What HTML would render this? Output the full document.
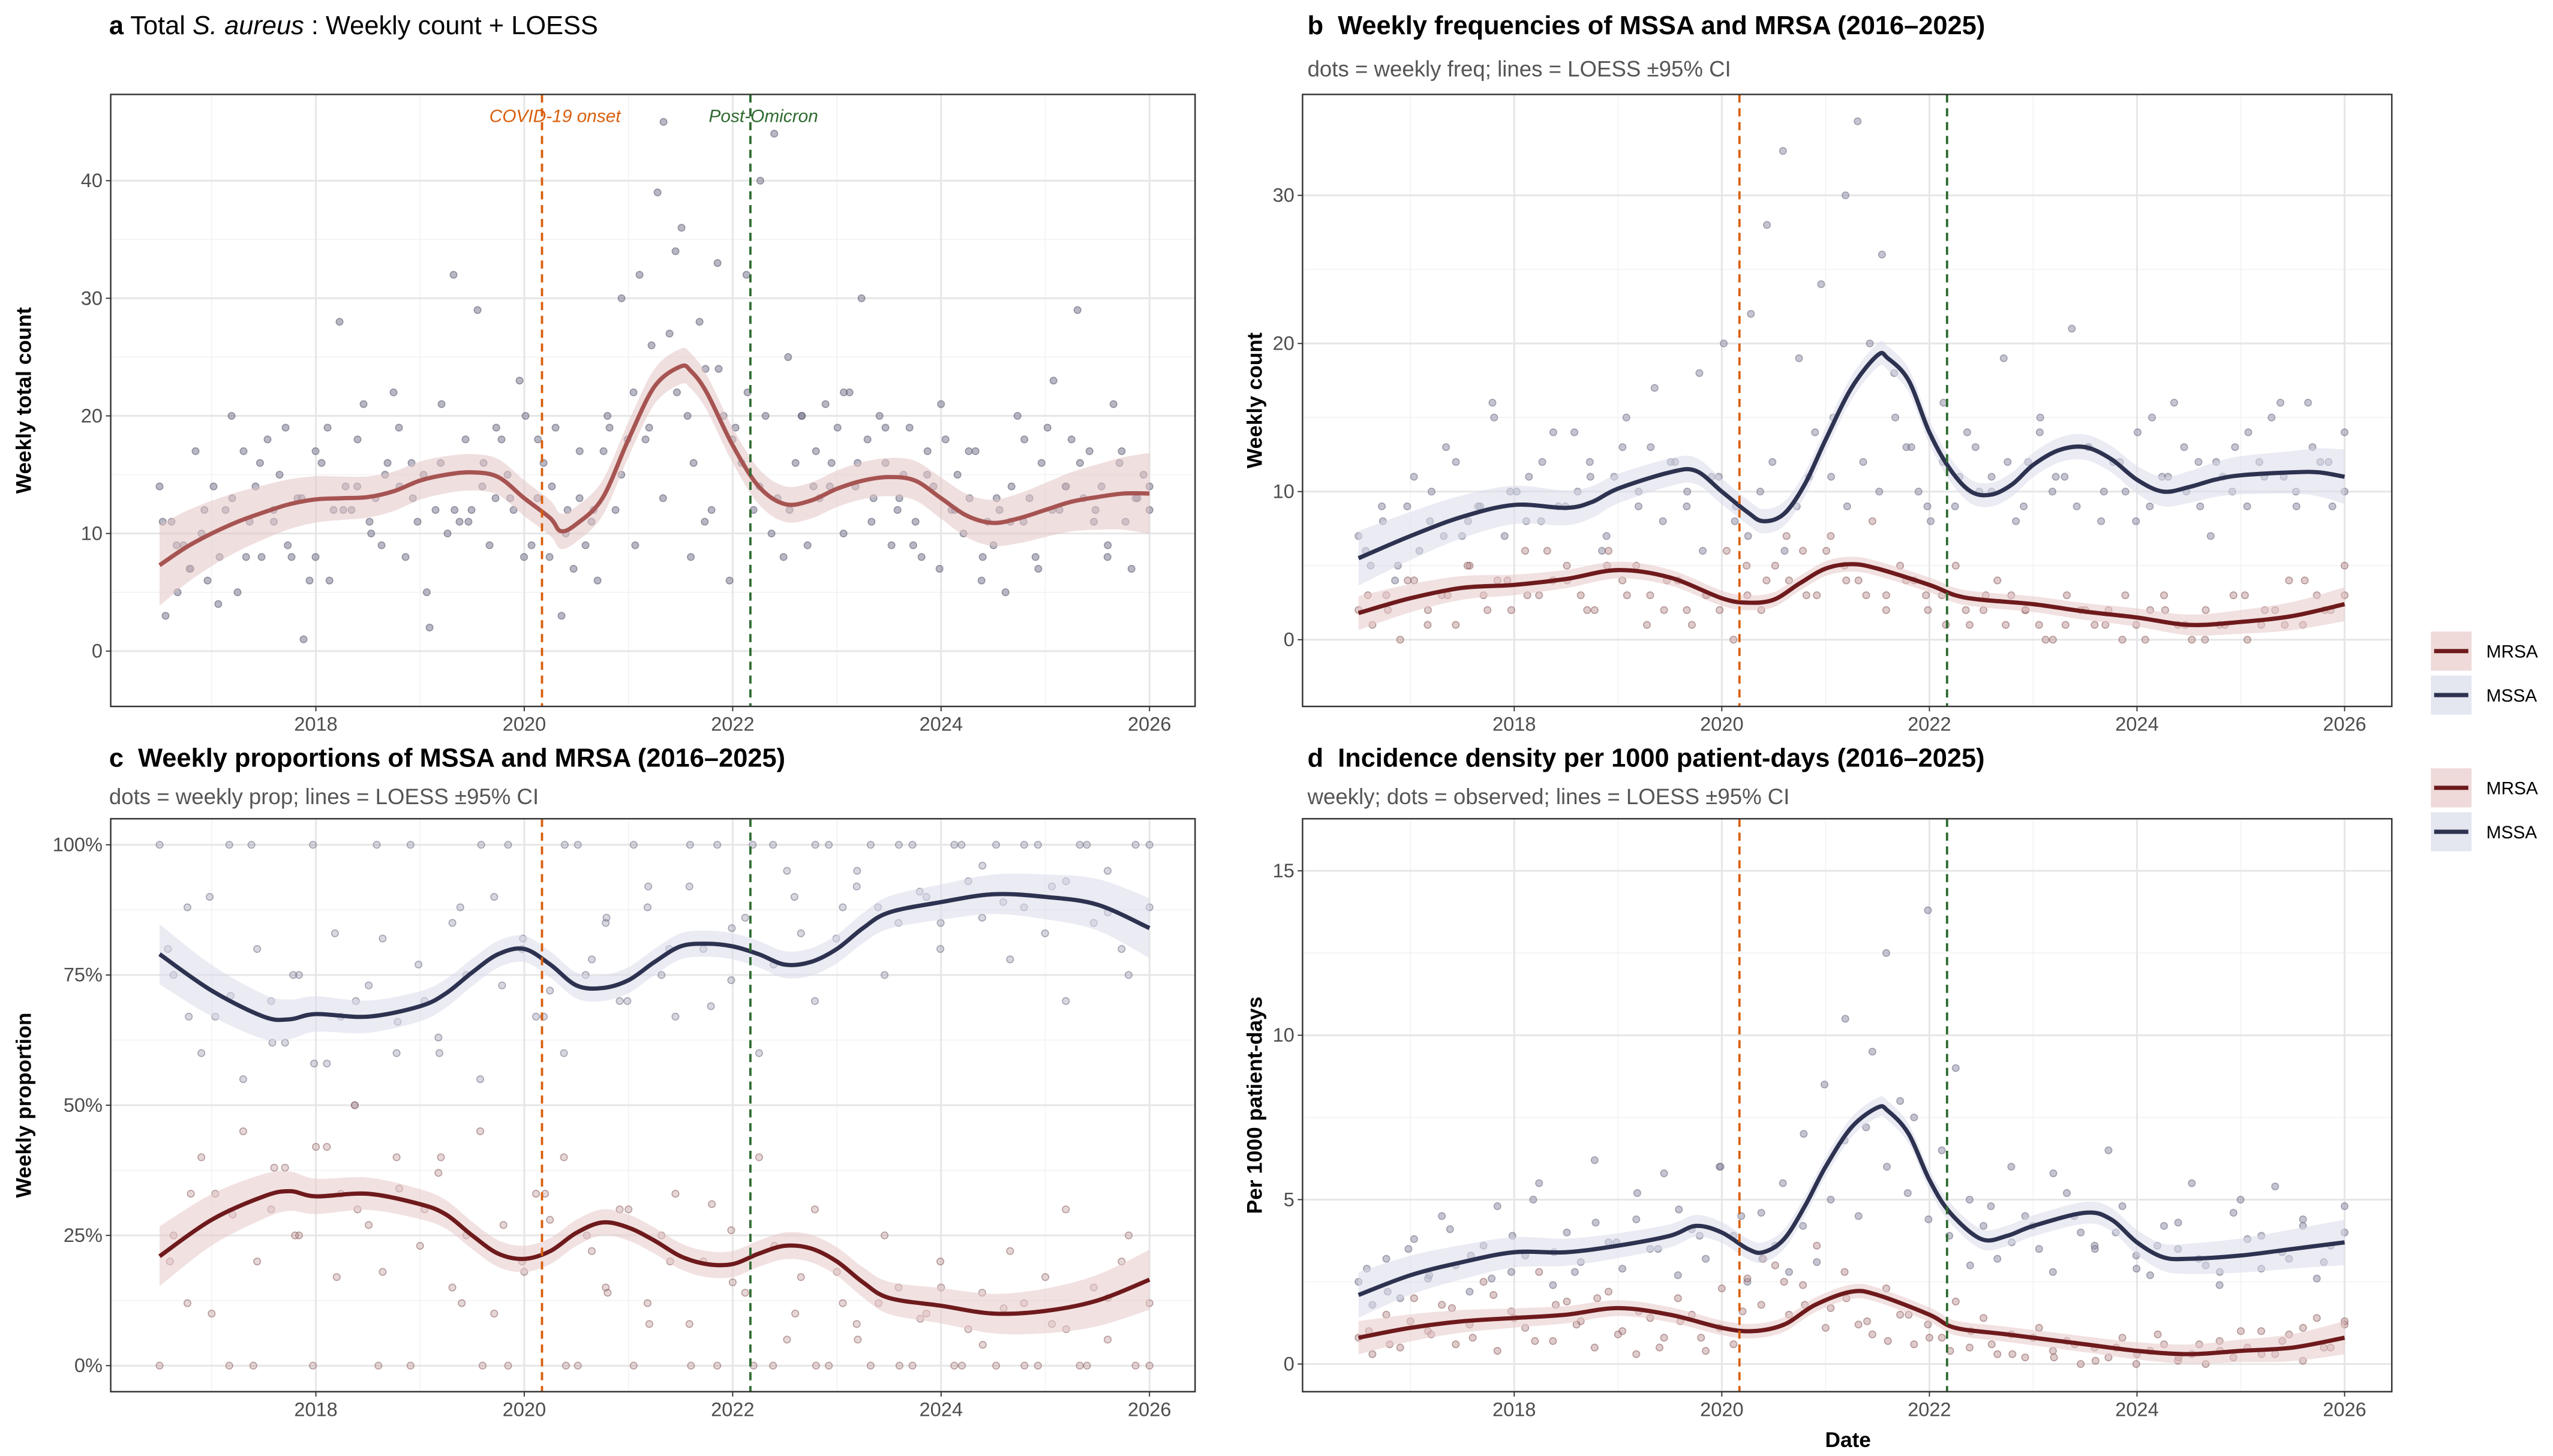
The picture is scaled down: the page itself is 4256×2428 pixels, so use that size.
<!DOCTYPE html>
<html><head><meta charset="utf-8"><style>
html,body{margin:0;padding:0;background:#fff;}
svg{display:block;font-family:"Liberation Sans",sans-serif;}
</style></head><body>
<svg id="fig" xmlns="http://www.w3.org/2000/svg" width="4256" height="2428" viewBox="0 0 1568 894.5">
<rect x="0" y="0" width="1568" height="894.5" fill="#fff"/>
<text x="67" y="21" font-size="16" fill="#000"><tspan font-weight="bold">a</tspan> Total <tspan font-style="italic">S. aureus</tspan> : Weekly count + LOESS</text>
<text x="803" y="21" font-size="16" font-weight="bold" fill="#000" xml:space="preserve">b  Weekly frequencies of MSSA and MRSA (2016–2025)</text>
<text x="803" y="47" font-size="13.5" fill="#555">dots = weekly freq; lines = LOESS ±95% CI</text>
<text x="67" y="471" font-size="16" font-weight="bold" fill="#000" xml:space="preserve">c  Weekly proportions of MSSA and MRSA (2016–2025)</text>
<text x="67" y="494" font-size="13.5" fill="#555">dots = weekly prop; lines = LOESS ±95% CI</text>
<text x="803" y="471" font-size="16" font-weight="bold" fill="#000" xml:space="preserve">d  Incidence density per 1000 patient-days (2016–2025)</text>
<text x="803" y="494" font-size="13.5" fill="#555">weekly; dots = observed; lines = LOESS ±95% CI</text>
<text x="1135" y="889" font-size="13" font-weight="bold" text-anchor="middle">Date</text>
<g id="legends"></g>
</svg>
<script>
// ---------- data ----------
const aLoessX=[2016.5,2016.75,2017,2017.25,2017.5,2017.75,2018,2018.25,2018.5,2018.75,2019,2019.25,2019.5,2019.75,2020,2020.25,2020.35,2020.5,2020.75,2021,2021.25,2021.5,2021.6,2021.75,2022,2022.25,2022.5,2022.75,2023,2023.25,2023.5,2023.75,2024,2024.25,2024.5,2024.75,2025,2025.25,2025.5,2025.75,2026];
const aLoessY=[7.3,8.8,10,11,11.8,12.5,12.9,13,13.1,13.6,14.5,15,15.2,14.8,13,11.3,10.2,10.8,13,18,22.5,24.2,23.8,22,17.5,14,12.5,12.8,13.8,14.5,14.8,14.5,13,11.5,10.9,11.3,12,12.7,13.1,13.4,13.4];
const aDots=[14,3,11,5,9,7,17,10,6,14,8,12,20,5,17,11,14,8,18,12,15,19,8,13,1,6,8,16,19,12,28,14,12,18,21,11,13,9,16,22,14,8,16,11,15,2,12,21,10,32,11,18,12,29,16,9,13,18,15,12,23,20,9,13,16,8,19,3,12,7,13,9,11,6,17,19,12,30,18,22,32,18,26,39,45,27,34,36,20,16,28,24,12,33,20,6,19,16,22,12,14,20,10,13,8,12,16,20,9,14,13,21,16,19,10,22,14,30,18,13,20,16,9,12,15,19,11,8,17,14,7,18,12,15,10,13,17,6,11,9,12,5,14,20,11,13,8,16,19,23,12,14,18,29,13,17,12,14,8,21,16,11,7,13,15,14];
const aDots2=[11,9,7,12,4,13,8,16,11,9,13,17,6,12,14,10,15,19,13,5,16,12,11,14,19,13,8,18,14,10,17,12,20,15,9,19,13,22,8,11,24,18,32,40,44,25,20,17,14,22,16,11,19,13,9,15,21,12,17,8,13,11,18,7,12,14,16,11,9,17,13,12];
const bX=[2016.5,2017,2017.5,2018,2018.5,2018.75,2019,2019.5,2019.75,2020,2020.25,2020.4,2020.6,2020.8,2021,2021.25,2021.5,2021.6,2021.8,2022,2022.2,2022.4,2022.6,2022.8,2023,2023.25,2023.5,2023.75,2024,2024.25,2024.5,2024.75,2025,2025.5,2025.75,2026];
const bMSSA=[5.5,7,8.3,9.1,8.9,9.3,10.2,11.3,11.4,10,8.6,8.0,8.5,10.5,13.5,17,19.2,19,17.5,14,11.5,10,9.8,10.5,11.8,12.8,13,12.2,10.8,10,10.3,10.8,11.1,11.3,11.3,11];
const bMX=[2016.5,2017,2017.5,2018,2018.5,2019,2019.5,2020,2020.25,2020.5,2020.75,2021,2021.25,2021.5,2022,2022.25,2022.5,2023,2023.5,2024,2024.5,2025,2025.5,2026];
const bMRSA=[1.8,2.8,3.5,3.7,4.1,4.7,4.2,2.8,2.5,2.7,3.8,4.8,5.1,4.8,3.7,3.0,2.7,2.4,1.9,1.5,1.0,1.2,1.6,2.4];
const bDotsMSSA=[7,5,8,4,9,6,10,7,12,8,9,16,7,10,11,8,14,9,10,12,6,11,15,9,13,8,12,10,18,11,20,9,7,10,12,6,9,11,24,15,30,35,20,26,18,13,10,8,12,9,14,10,11,19,8,12,15,10,11,9,13,8,12,10,14,9,11,16,10,12,7,11,13,9,12,15,11,10,16,12,9,14];
const bDotsMSSA2=[6,9,5,11,8,13,7,9,15,10,8,12,9,14,11,7,13,10,17,12,9,6,11,8,22,28,33,19,14,11,9,12,10,15,13,9,16,11,13,10,12,9,14,11,21,13,10,12,8,15,11,13,9,12,10,14,11,16,9,13,12,10];
const bDotsMRSA=[2,1,3,0,4,2,3,1,5,3,4,2,6,3,4,5,3,2,6,4,5,3,2,4,1,3,2,0,3,2,5,4,6,3,7,5,4,8,3,5,4,2,3,5,1,2,4,3,2,1,0,3,2,1,2,0,1,2,3,1,0,2,1,3,0,1,2,4,1,3,2,5];
const bDotsMRSA2=[3,2,4,1,3,5,2,4,3,6,4,2,5,3,1,4,2,3,6,5,4,7,3,6,4,3,2,4,3,1,2,3,1,2,0,1,2,1,3,0,2,1,0,1,3,2,1,4,2,3];
const cX=[2016.5,2017,2017.5,2017.75,2018,2018.5,2019,2019.25,2019.5,2019.75,2020,2020.25,2020.5,2020.75,2021,2021.25,2021.5,2021.75,2022,2022.25,2022.5,2022.75,2023,2023.25,2023.5,2024,2024.5,2025,2025.5,2026];
const cMSSA=[79,72,67,66.5,67.5,67,69,71.5,75.5,79,80,77,73,72.5,74,77.5,80.5,81,80.5,79,77,77.5,80,84,87,89,90.5,90,88.5,84];
const cMRSA=[21,28,32.5,33.5,32.5,33,31,29,25,21.5,20.5,22,25.5,27.5,26.5,24,21,19.5,19.5,21.5,23,22.5,20,16,13,11.5,10,10.5,12.5,16.5];
const cDotsMSSA=[100,75,88,60,67,100,55,80,70,62,75,100,58,67,50,73,82,60,100,70,63,85,75,55,90,100,80,67,72,60,100,78,85,70,100,88,75,67,92,80,100,74,86,60,100,95,83,70,100,88,92,100,75,85,100,90,80,100,93,86,100,78,88,100,92,70,100,85,95,80,100,88];
const cDotsMSSA2=[80,67,90,71,100,62,75,58,83,70,100,66,77,60,88,100,73,82,67,100,75,86,70,92,80,100,69,84,100,77,90,100,82,95,88,100,91,85,100,96,89,100,83,93,100,87,75,100];
const cDotsMRSA=[0,25,12,40,33,0,45,20,30,38,25,0,42,33,50,27,18,40,0,30,37,15,25,45,10,0,20,33,28,40,0,22,15,30,0,12,25,33,8,20,0,26,14,40,0,5,17,30,0,12,8,0,25,15,0,10,20,0,7,14,0,22,12,0,8,30,0,15,5,20,0,12];
const cDotsMRSA2=[20,33,10,29,0,38,25,42,17,30,0,34,23,40,12,0,27,18,33,0,25,14,30,8,20,0,31,16,0,23,10,0,18,5,12,0,9,15,0,4,11,0,17,7,0,13,25,0];
const dX=[2016.5,2017,2017.5,2018,2018.5,2019,2019.5,2019.75,2020,2020.25,2020.4,2020.6,2020.8,2021,2021.25,2021.5,2021.6,2021.8,2022,2022.2,2022.5,2022.75,2023,2023.5,2023.75,2024,2024.25,2024.5,2025,2025.5,2026];
const dMSSA=[2.1,2.7,3.1,3.4,3.4,3.6,3.9,4.2,4.0,3.5,3.4,3.8,4.8,6,7.2,7.8,7.7,7,5.6,4.6,3.8,3.9,4.2,4.6,4.4,3.7,3.25,3.2,3.3,3.5,3.7];
const dMX=[2016.5,2017,2017.5,2018,2018.5,2019,2019.5,2020,2020.3,2020.6,2020.9,2021.25,2021.5,2022,2022.25,2022.75,2023.5,2024,2024.5,2025,2025.5,2026];
const dMRSA=[0.8,1.1,1.3,1.4,1.5,1.7,1.5,1.1,1.0,1.2,1.8,2.2,2.1,1.5,1.1,0.9,0.6,0.4,0.3,0.4,0.5,0.8];
const dDotsMSSA=[2.5,1.8,3.2,2,3.8,2.6,4.5,3,2.2,3.6,4.8,2.8,3.3,5.5,2.4,4,3.1,6.2,3.7,2.9,4.4,3.5,5.8,2.7,4.1,3.2,6,3.9,2.5,4.6,3.6,2.8,4.2,3.1,5,6.8,4.5,9.5,12.5,8,7.5,13.8,6.5,9,5,4.2,3.2,6,4.5,3.5,2.8,5.2,4,3.6,6.5,4.8,3.3,2.7,4.2,3.5,5.5,3,2.4,4.6,3.8,2.9,5.4,3.2,4.2,2.6,3.6,4.8];
const dDotsMSSA2=[2.9,2.2,3.5,2.7,4.1,3.3,2.6,3.9,5,3.4,2.8,4.3,3.7,5.2,3.5,4.7,3.9,6,4.5,3.2,5.5,7,8.5,10.5,7.2,6,5.2,4.4,3.9,3,4.8,3.7,4.2,5.8,4.5,3.5,4,2.9,3.6,4.3,3.2,2.8,5,3.9,3.4,4.4,3.1,4];
const dDotsMRSA=[0.8,0.3,1.5,0.5,2,1,1.8,0.6,1.2,2.5,0.4,1.6,1.1,2.8,0.7,1.9,1.3,0.5,2.2,1,0.3,1.4,0.8,2,1.5,0.4,1.1,0.6,2.6,1.8,3,1.5,2.4,3.6,1.7,2.8,1.2,0.9,2.3,1.5,0.6,1.2,0.8,1.9,0.5,1.4,0.3,0.9,0.2,1.1,0.4,0.7,0,0.5,0.2,0.8,0,0.4,0.6,0.1,0.3,0,0.7,0.2,0.5,1,0.3,0.9,0.1,1.4,0.5,1.2];
const dDotsMRSA2=[1,0.6,1.3,0.9,1.7,0.8,2.1,1.4,0.7,1.8,1.2,2,0.9,1.6,0.5,1.3,0.8,2.3,1.6,3.2,2.5,1.8,1.1,2,1.3,0.7,1.5,0.8,0.4,1,0.6,0.3,0.8,0.2,0.6,0.1,0.5,0.3,0.9,0.2,0.6,0.4,1,0.3,0.7,1.1,0.5,1.3];
const xTicks=[2018,2020,2022,2024,2026];
const aYTicks=[0,10,20,30,40];
const bYTicks=[0,10,20,30];
const cYTicks=[0,25,50,75,100];
const cYLabels=["0%","25%","50%","75%","100%"];
const dYTicks=[0,5,10,15];
const events=[2020.17,2022.17];

// ---------- drawing ----------
const NS="http://www.w3.org/2000/svg";
const svg=document.getElementById('fig');
function mk(tag,attrs,parent){const e=document.createElementNS(NS,tag);for(const k in attrs)e.setAttribute(k,attrs[k]);(parent||svg).appendChild(e);return e;}
function smooth(pts){let d="M"+pts[0][0]+","+pts[0][1];for(let i=0;i<pts.length-1;i++){const p0=pts[Math.max(i-1,0)],p1=pts[i],p2=pts[i+1],p3=pts[Math.min(i+2,pts.length-1)];const c1=[p1[0]+(p2[0]-p0[0])/6,p1[1]+(p2[1]-p0[1])/6],c2=[p2[0]-(p3[0]-p1[0])/6,p2[1]-(p3[1]-p1[1])/6];d+=" C"+c1[0]+","+c1[1]+" "+c2[0]+","+c2[1]+" "+p2[0]+","+p2[1];}return d;}

function panel(c){
  const g=mk('g',{});
  
  
  const sx=v=>c.x0+(v-c.xd0)*(c.x1-c.x0)/(c.xd1-c.xd0);
  const sy=v=>c.y0+(v-c.yd0)*(c.y1-c.y0)/(c.yd1-c.yd0);
  for(let i=0;i<c.xt.length;i++){const v=c.xt[i]-1;const gl=mk('line',{x1:sx(v),x2:sx(v),y1:c.top,y2:c.bot,stroke:'#f2f2f2','stroke-width':0.6},g);}
  for(let i=0;i<c.yt.length-1;i++){const v=(c.yt[i]+c.yt[i+1])/2;const gl=mk('line',{x1:c.left,x2:c.right,y1:sy(v),y2:sy(v),stroke:'#f2f2f2','stroke-width':0.6},g);}
  c.xt.forEach(v=>{const gl=mk('line',{x1:sx(v),x2:sx(v),y1:c.top,y2:c.bot,stroke:'#e6e6e6','stroke-width':1.1},g);
    mk('line',{x1:sx(v),x2:sx(v),y1:c.bot,y2:c.bot+3,stroke:'#333','stroke-width':0.7},g);
    const t=mk('text',{x:sx(v),y:c.bot+15,'font-size':12,fill:'#4d4d4d','text-anchor':'middle'},g);t.textContent=v;});
  c.yt.forEach((v,i)=>{const gl=mk('line',{x1:c.left,x2:c.right,y1:sy(v),y2:sy(v),stroke:'#e6e6e6','stroke-width':1.1},g);
    mk('line',{x1:c.left-3,x2:c.left,y1:sy(v),y2:sy(v),stroke:'#333','stroke-width':0.7},g);
    const t=mk('text',{x:c.left-5,y:sy(v)+4,'font-size':12,fill:'#4d4d4d','text-anchor':'end'},g);t.textContent=c.yl?c.yl[i]:v;});
  c.dots.forEach(ds=>{const n=ds.v.length;const off=ds.off||0;ds.v.forEach((v,i)=>{const x=2016.5+off+i*(9.5-off)/(n-1);const d=mk('circle',{cx:sx(x),cy:sy(v),r:2.1,fill:ds.fill,'fill-opacity':ds.op,stroke:ds.stroke,'stroke-opacity':0.55,'stroke-width':0.6},g);});});
  c.lines.forEach(L=>{const n=L.x.length;
    const hi=[],lo=[];L.x.forEach((x,i)=>{const e=Math.abs(i-(n-1)/2)/((n-1)/2);const h=L.ci*(1+1.3*Math.pow(e,4));hi.push([sx(x),sy(L.y[i]+h)]);lo.push([sx(x),sy(L.y[i]-h)]);});
    const up=smooth(hi);const dn=smooth(lo.reverse()).replace(/^M/,' L');
    const b=mk('path',{d:up+dn+' Z',fill:L.band,'fill-opacity':0.55},g);
    const p=mk('path',{d:smooth(L.x.map((x,i)=>[sx(x),sy(L.y[i])])),fill:'none',stroke:L.col,'stroke-width':2.6,'stroke-linejoin':'round'},g);});
  events.forEach((v,i)=>{const l=mk('line',{x1:sx(v),x2:sx(v),y1:c.top,y2:c.bot,stroke:i?'#2e6b30':'#d95f0e','stroke-width':1.4,'stroke-dasharray':'5,3.5'},g);});
  if(c.evLabels){const t1=mk('text',{x:sx(events[0])+8,y:c.top+17,'font-size':11,'font-style':'italic',fill:'#d95f0e','text-anchor':'middle'},g);t1.textContent='COVID-19 onset';
    const t2=mk('text',{x:sx(events[1])+8,y:c.top+17,'font-size':11,'font-style':'italic',fill:'#2e6b30','text-anchor':'middle'},g);t2.textContent='Post-Omicron';}
  const fr=mk('rect',{x:c.left,y:c.top,width:c.right-c.left,height:c.bot-c.top,fill:'none',stroke:'#333','stroke-width':0.9},g);
  const yt=mk('text',{x:0,y:0,'font-size':13,'font-weight':'bold','text-anchor':'middle',transform:'translate('+c.ytx+','+((c.top+c.bot)/2)+') rotate(-90)'},g);yt.textContent=c.ytitle;
}
const MSSAc='#2d3250',MRSAc='#6e1a1c',MSSAb='#d8dbea',MRSAb='#e8c9c9';
const GD={fill:'#8c8ca4',stroke:'#6a6a84',op:0.5},RD={fill:'#b58c8c',stroke:'#8a5a5a',op:0.45};
panel({name:'panel-a',left:68,right:734,top:58,bot:434,x0:194,x1:706,xd0:2018,xd1:2026,y0:400,y1:111,yd0:0,yd1:40,xt:xTicks,yt:aYTicks,ytitle:'Weekly total count',ytx:19,evLabels:true,
  dots:[{name:'weekly-count-dot',v:aDots,fill:'#7e7e96',stroke:'#55556b',op:0.55},{name:'weekly-count-dot',v:aDots2,off:0.03,fill:'#7e7e96',stroke:'#55556b',op:0.55}],
  lines:[{name:'total',x:aLoessX,y:aLoessY,ci:1.5,col:'#a65452',band:'#e3c4c4'}]});
panel({name:'panel-b',left:800,right:1469,top:58,bot:434,x0:930,x1:1440,xd0:2018,xd1:2026,y0:393,y1:120,yd0:0,yd1:30,xt:xTicks,yt:bYTicks,ytitle:'Weekly count',ytx:775,
  dots:[Object.assign({name:'mssa-dot',v:bDotsMSSA},GD),Object.assign({name:'mssa-dot',v:bDotsMSSA2,off:0.07},GD),Object.assign({name:'mrsa-dot',v:bDotsMRSA},RD),Object.assign({name:'mrsa-dot',v:bDotsMRSA2,off:0.09},RD)],
  lines:[{name:'mrsa',x:bMX,y:bMRSA,ci:0.5,col:MRSAc,band:MRSAb},{name:'mssa',x:bX,y:bMSSA,ci:0.8,col:MSSAc,band:MSSAb}]});
panel({name:'panel-c',left:68,right:734,top:503,bot:855,x0:194,x1:706,xd0:2018,xd1:2026,y0:839,y1:519,yd0:0,yd1:100,xt:xTicks,yt:cYTicks,yl:cYLabels,ytitle:'Weekly proportion',ytx:19,
  dots:[Object.assign({name:'mssa-dot',v:cDotsMSSA},GD,{op:0.35}),Object.assign({name:'mssa-dot',v:cDotsMSSA2,off:0.08},GD,{op:0.35}),Object.assign({name:'mrsa-dot',v:cDotsMRSA},RD,{op:0.35}),Object.assign({name:'mrsa-dot',v:cDotsMRSA2,off:0.1},RD,{op:0.35})],
  lines:[{name:'mrsa',x:cX,y:cMRSA,ci:2.5,col:MRSAc,band:MRSAb},{name:'mssa',x:cX,y:cMSSA,ci:2.5,col:MSSAc,band:MSSAb}]});
panel({name:'panel-d',left:800,right:1469,top:503,bot:855,x0:930,x1:1440,xd0:2018,xd1:2026,y0:838,y1:535,yd0:0,yd1:15,xt:xTicks,yt:dYTicks,ytitle:'Per 1000 patient-days',ytx:775,
  dots:[Object.assign({name:'mssa-dot',v:dDotsMSSA},GD),Object.assign({name:'mssa-dot',v:dDotsMSSA2,off:0.08},GD),Object.assign({name:'mrsa-dot',v:dDotsMRSA},RD),Object.assign({name:'mrsa-dot',v:dDotsMRSA2,off:0.1},RD)],
  lines:[{name:'mrsa',x:dMX,y:dMRSA,ci:0.22,col:MRSAc,band:MRSAb},{name:'mssa',x:dX,y:dMSSA,ci:0.3,col:MSSAc,band:MSSAb}]});
const lg=document.getElementById('legends');
[[388,'legend-top'],[472,'legend-bottom']].forEach(([y0,nm])=>{
  [['MRSA',MRSAc,MRSAb],['MSSA',MSSAc,MSSAb]].forEach(([lab,col,band],i)=>{
    const y=y0+i*27;
    const k=mk('rect',{x:1493,y:y,width:25,height:24,fill:band,'fill-opacity':0.7},lg);
    mk('line',{x1:1495,x2:1516,y1:y+12,y2:y+12,stroke:col,'stroke-width':2.6},lg);
    const t=mk('text',{x:1527,y:y+16,'font-size':11,fill:'#000'},lg);t.textContent=lab;
  });
});
</script>
</body></html>
